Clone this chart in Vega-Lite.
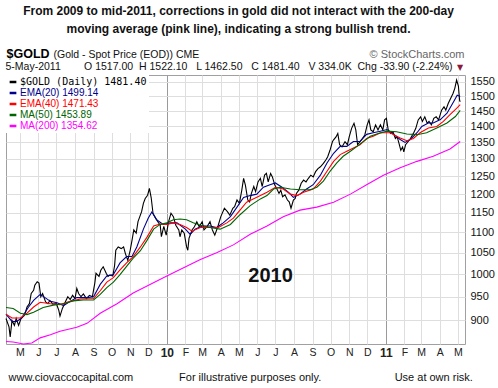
{
  "$schema": "https://vega.github.io/schema/vega-lite/v6.json",
  "width": 459,
  "height": 269,
  "autosize": {"type": "none"},
  "padding": {"left": 6, "top": 75, "right": 33, "bottom": 44},
  "background": "white",
  "config": {
    "view": {"stroke": "#a0a0a0", "strokeWidth": 1},
    "font": "Liberation Sans",
    "axis": {"labelFont": "Liberation Sans", "titleFont": "Liberation Sans"}
  },
  "title": {
    "text": ["From 2009 to mid-2011, corrections in gold did not interact with the 200-day", "moving average (pink line), indicating a strong bullish trend."],
    "font": "Liberation Sans",
    "fontSize": 12,
    "fontWeight": "bold",
    "color": "#111111",
    "lineHeight": 18,
    "anchor": "middle",
    "frame": "group",
    "offset": 12,
    "dx": 3
  },
  "datasets": {
    "prices": [
      {"d":"2009-04-08","s":"g","p":904},{"d":"2009-04-13","s":"g","p":887},{"d":"2009-04-15","s":"g","p":867},{"d":"2009-04-18","s":"g","p":900},{"d":"2009-04-22","s":"g","p":890},{"d":"2009-04-25","s":"g","p":904},{"d":"2009-04-29","s":"g","p":890},{"d":"2009-05-03","s":"g","p":904},{"d":"2009-05-09","s":"g","p":911},{"d":"2009-05-13","s":"g","p":928},{"d":"2009-05-17","s":"g","p":935},{"d":"2009-05-20","s":"g","p":957},{"d":"2009-05-24","s":"g","p":964},{"d":"2009-05-26","s":"g","p":975},{"d":"2009-05-30","s":"g","p":983},{"d":"2009-06-02","s":"g","p":980},{"d":"2009-06-05","s":"g","p":950},{"d":"2009-06-08","s":"g","p":957},{"d":"2009-06-13","s":"g","p":939},{"d":"2009-06-17","s":"g","p":935},{"d":"2009-06-20","s":"g","p":942},{"d":"2009-06-25","s":"g","p":934},{"d":"2009-07-01","s":"g","p":935},{"d":"2009-07-05","s":"g","p":921},{"d":"2009-07-07","s":"g","p":909},{"d":"2009-07-11","s":"g","p":925},{"d":"2009-07-16","s":"g","p":939},{"d":"2009-07-20","s":"g","p":950},{"d":"2009-07-24","s":"g","p":944},{"d":"2009-07-28","s":"g","p":953},{"d":"2009-08-01","s":"g","p":946},{"d":"2009-08-04","s":"g","p":968},{"d":"2009-08-07","s":"g","p":957},{"d":"2009-08-11","s":"g","p":950},{"d":"2009-08-15","s":"g","p":956},{"d":"2009-08-20","s":"g","p":946},{"d":"2009-08-25","s":"g","p":953},{"d":"2009-08-30","s":"g","p":950},{"d":"2009-09-03","s":"g","p":980},{"d":"2009-09-05","s":"g","p":1002},{"d":"2009-09-10","s":"g","p":995},{"d":"2009-09-13","s":"g","p":1009},{"d":"2009-09-17","s":"g","p":1017},{"d":"2009-09-22","s":"g","p":1002},{"d":"2009-09-25","s":"g","p":995},{"d":"2009-09-28","s":"g","p":998},{"d":"2009-10-03","s":"g","p":996},{"d":"2009-10-06","s":"g","p":1020},{"d":"2009-10-08","s":"g","p":1056},{"d":"2009-10-12","s":"g","p":1064},{"d":"2009-10-17","s":"g","p":1060},{"d":"2009-10-21","s":"g","p":1064},{"d":"2009-10-24","s":"g","p":1048},{"d":"2009-10-28","s":"g","p":1032},{"d":"2009-11-01","s":"g","p":1056},{"d":"2009-11-04","s":"g","p":1080},{"d":"2009-11-07","s":"g","p":1106},{"d":"2009-11-11","s":"g","p":1098},{"d":"2009-11-14","s":"g","p":1127},{"d":"2009-11-17","s":"g","p":1140},{"d":"2009-11-20","s":"g","p":1153},{"d":"2009-11-23","s":"g","p":1175},{"d":"2009-11-26","s":"g","p":1188},{"d":"2009-11-30","s":"g","p":1197},{"d":"2009-12-03","s":"g","p":1216},{"d":"2009-12-06","s":"g","p":1190},{"d":"2009-12-09","s":"g","p":1149},{"d":"2009-12-12","s":"g","p":1140},{"d":"2009-12-17","s":"g","p":1127},{"d":"2009-12-21","s":"g","p":1118},{"d":"2009-12-23","s":"g","p":1089},{"d":"2009-12-27","s":"g","p":1115},{"d":"2009-12-31","s":"g","p":1093},{"d":"2010-01-04","s":"g","p":1127},{"d":"2010-01-08","s":"g","p":1149},{"d":"2010-01-12","s":"g","p":1140},{"d":"2010-01-16","s":"g","p":1118},{"d":"2010-01-21","s":"g","p":1106},{"d":"2010-01-23","s":"g","p":1089},{"d":"2010-01-26","s":"g","p":1106},{"d":"2010-01-30","s":"g","p":1098},{"d":"2010-02-03","s":"g","p":1064},{"d":"2010-02-05","s":"g","p":1056},{"d":"2010-02-07","s":"g","p":1085},{"d":"2010-02-12","s":"g","p":1106},{"d":"2010-02-16","s":"g","p":1114},{"d":"2010-02-20","s":"g","p":1127},{"d":"2010-02-24","s":"g","p":1114},{"d":"2010-03-01","s":"g","p":1127},{"d":"2010-03-04","s":"g","p":1106},{"d":"2010-03-09","s":"g","p":1114},{"d":"2010-03-14","s":"g","p":1127},{"d":"2010-03-18","s":"g","p":1106},{"d":"2010-03-22","s":"g","p":1093},{"d":"2010-03-27","s":"g","p":1114},{"d":"2010-04-01","s":"g","p":1140},{"d":"2010-04-07","s":"g","p":1162},{"d":"2010-04-12","s":"g","p":1153},{"d":"2010-04-16","s":"g","p":1144},{"d":"2010-04-21","s":"g","p":1162},{"d":"2010-04-24","s":"g","p":1166},{"d":"2010-04-28","s":"g","p":1184},{"d":"2010-05-02","s":"g","p":1175},{"d":"2010-05-06","s":"g","p":1211},{"d":"2010-05-09","s":"g","p":1244},{"d":"2010-05-12","s":"g","p":1225},{"d":"2010-05-16","s":"g","p":1184},{"d":"2010-05-19","s":"g","p":1179},{"d":"2010-05-22","s":"g","p":1202},{"d":"2010-05-26","s":"g","p":1221},{"d":"2010-05-29","s":"g","p":1207},{"d":"2010-06-02","s":"g","p":1234},{"d":"2010-06-06","s":"g","p":1244},{"d":"2010-06-09","s":"g","p":1221},{"d":"2010-06-13","s":"g","p":1253},{"d":"2010-06-16","s":"g","p":1258},{"d":"2010-06-19","s":"g","p":1234},{"d":"2010-06-23","s":"g","p":1258},{"d":"2010-06-26","s":"g","p":1248},{"d":"2010-06-30","s":"g","p":1225},{"d":"2010-07-03","s":"g","p":1216},{"d":"2010-07-07","s":"g","p":1202},{"d":"2010-07-10","s":"g","p":1211},{"d":"2010-07-13","s":"g","p":1193},{"d":"2010-07-17","s":"g","p":1198},{"d":"2010-07-21","s":"g","p":1184},{"d":"2010-07-24","s":"g","p":1179},{"d":"2010-07-27","s":"g","p":1162},{"d":"2010-07-31","s":"g","p":1184},{"d":"2010-08-03","s":"g","p":1188},{"d":"2010-08-05","s":"g","p":1202},{"d":"2010-08-09","s":"g","p":1211},{"d":"2010-08-13","s":"g","p":1230},{"d":"2010-08-17","s":"g","p":1239},{"d":"2010-08-21","s":"g","p":1234},{"d":"2010-08-25","s":"g","p":1244},{"d":"2010-08-29","s":"g","p":1253},{"d":"2010-09-02","s":"g","p":1248},{"d":"2010-09-06","s":"g","p":1263},{"d":"2010-09-10","s":"g","p":1272},{"d":"2010-09-14","s":"g","p":1277},{"d":"2010-09-19","s":"g","p":1287},{"d":"2010-09-23","s":"g","p":1297},{"d":"2010-09-26","s":"g","p":1306},{"d":"2010-09-30","s":"g","p":1326},{"d":"2010-10-04","s":"g","p":1352},{"d":"2010-10-06","s":"g","p":1358},{"d":"2010-10-10","s":"g","p":1367},{"d":"2010-10-13","s":"g","p":1378},{"d":"2010-10-16","s":"g","p":1343},{"d":"2010-10-20","s":"g","p":1336},{"d":"2010-10-25","s":"g","p":1352},{"d":"2010-10-29","s":"g","p":1343},{"d":"2010-11-01","s":"g","p":1367},{"d":"2010-11-05","s":"g","p":1394},{"d":"2010-11-09","s":"g","p":1410},{"d":"2010-11-12","s":"g","p":1389},{"d":"2010-11-15","s":"g","p":1343},{"d":"2010-11-19","s":"g","p":1352},{"d":"2010-11-23","s":"g","p":1362},{"d":"2010-11-27","s":"g","p":1373},{"d":"2010-12-01","s":"g","p":1405},{"d":"2010-12-04","s":"g","p":1421},{"d":"2010-12-07","s":"g","p":1389},{"d":"2010-12-11","s":"g","p":1383},{"d":"2010-12-15","s":"g","p":1405},{"d":"2010-12-19","s":"g","p":1389},{"d":"2010-12-23","s":"g","p":1405},{"d":"2010-12-27","s":"g","p":1389},{"d":"2010-12-30","s":"g","p":1421},{"d":"2011-01-02","s":"g","p":1426},{"d":"2011-01-05","s":"g","p":1389},{"d":"2011-01-09","s":"g","p":1378},{"d":"2011-01-13","s":"g","p":1383},{"d":"2011-01-17","s":"g","p":1362},{"d":"2011-01-20","s":"g","p":1367},{"d":"2011-01-23","s":"g","p":1347},{"d":"2011-01-26","s":"g","p":1326},{"d":"2011-01-29","s":"g","p":1336},{"d":"2011-01-31","s":"g","p":1321},{"d":"2011-02-03","s":"g","p":1343},{"d":"2011-02-07","s":"g","p":1352},{"d":"2011-02-11","s":"g","p":1362},{"d":"2011-02-16","s":"g","p":1378},{"d":"2011-02-20","s":"g","p":1394},{"d":"2011-02-24","s":"g","p":1421},{"d":"2011-02-28","s":"g","p":1431},{"d":"2011-03-03","s":"g","p":1416},{"d":"2011-03-07","s":"g","p":1431},{"d":"2011-03-11","s":"g","p":1410},{"d":"2011-03-14","s":"g","p":1416},{"d":"2011-03-18","s":"g","p":1405},{"d":"2011-03-22","s":"g","p":1426},{"d":"2011-03-26","s":"g","p":1431},{"d":"2011-03-30","s":"g","p":1421},{"d":"2011-04-04","s":"g","p":1453},{"d":"2011-04-08","s":"g","p":1464},{"d":"2011-04-11","s":"g","p":1453},{"d":"2011-04-15","s":"g","p":1475},{"d":"2011-04-19","s":"g","p":1492},{"d":"2011-04-23","s":"g","p":1509},{"d":"2011-04-26","s":"g","p":1527},{"d":"2011-04-29","s":"g","p":1556},{"d":"2011-05-02","s":"g","p":1535},{"d":"2011-05-04","s":"g","p":1486},{"d":"2011-05-05","s":"g","p":1481},
      {"d":"2009-04-08","s":"e20","p":913},{"d":"2009-04-18","s":"e20","p":898},{"d":"2009-04-26","s":"e20","p":898},{"d":"2009-05-04","s":"e20","p":905},{"d":"2009-05-15","s":"e20","p":927},{"d":"2009-05-24","s":"e20","p":942},{"d":"2009-06-04","s":"e20","p":955},{"d":"2009-06-12","s":"e20","p":948},{"d":"2009-06-21","s":"e20","p":940},{"d":"2009-07-02","s":"e20","p":937},{"d":"2009-07-13","s":"e20","p":931},{"d":"2009-07-24","s":"e20","p":940},{"d":"2009-08-04","s":"e20","p":948},{"d":"2009-08-21","s":"e20","p":948},{"d":"2009-09-01","s":"e20","p":950},{"d":"2009-09-12","s":"e20","p":977},{"d":"2009-09-23","s":"e20","p":996},{"d":"2009-10-04","s":"e20","p":999},{"d":"2009-10-15","s":"e20","p":1026},{"d":"2009-10-26","s":"e20","p":1041},{"d":"2009-11-04","s":"e20","p":1041},{"d":"2009-11-12","s":"e20","p":1064},{"d":"2009-11-23","s":"e20","p":1108},{"d":"2009-12-01","s":"e20","p":1136},{"d":"2009-12-07","s":"e20","p":1152},{"d":"2009-12-15","s":"e20","p":1132},{"d":"2009-12-26","s":"e20","p":1120},{"d":"2010-01-07","s":"e20","p":1124},{"d":"2010-01-18","s":"e20","p":1124},{"d":"2010-02-01","s":"e20","p":1108},{"d":"2010-02-09","s":"e20","p":1095},{"d":"2010-02-17","s":"e20","p":1108},{"d":"2010-03-01","s":"e20","p":1116},{"d":"2010-03-14","s":"e20","p":1116},{"d":"2010-03-25","s":"e20","p":1112},{"d":"2010-04-05","s":"e20","p":1124},{"d":"2010-04-17","s":"e20","p":1140},{"d":"2010-04-28","s":"e20","p":1165},{"d":"2010-05-09","s":"e20","p":1191},{"d":"2010-05-20","s":"e20","p":1196},{"d":"2010-05-31","s":"e20","p":1200},{"d":"2010-06-11","s":"e20","p":1219},{"d":"2010-06-22","s":"e20","p":1226},{"d":"2010-07-01","s":"e20","p":1231},{"d":"2010-07-12","s":"e20","p":1219},{"d":"2010-07-23","s":"e20","p":1205},{"d":"2010-07-31","s":"e20","p":1191},{"d":"2010-08-11","s":"e20","p":1200},{"d":"2010-08-22","s":"e20","p":1214},{"d":"2010-09-02","s":"e20","p":1226},{"d":"2010-09-14","s":"e20","p":1253},{"d":"2010-09-25","s":"e20","p":1288},{"d":"2010-10-06","s":"e20","p":1317},{"d":"2010-10-17","s":"e20","p":1338},{"d":"2010-10-28","s":"e20","p":1338},{"d":"2010-11-08","s":"e20","p":1353},{"d":"2010-11-19","s":"e20","p":1353},{"d":"2010-11-30","s":"e20","p":1375},{"d":"2010-12-11","s":"e20","p":1380},{"d":"2010-12-23","s":"e20","p":1385},{"d":"2011-01-03","s":"e20","p":1390},{"d":"2011-01-14","s":"e20","p":1375},{"d":"2011-01-25","s":"e20","p":1359},{"d":"2011-02-02","s":"e20","p":1350},{"d":"2011-02-11","s":"e20","p":1359},{"d":"2011-02-22","s":"e20","p":1380},{"d":"2011-03-02","s":"e20","p":1400},{"d":"2011-03-13","s":"e20","p":1411},{"d":"2011-03-21","s":"e20","p":1411},{"d":"2011-04-02","s":"e20","p":1422},{"d":"2011-04-13","s":"e20","p":1443},{"d":"2011-04-24","s":"e20","p":1481},{"d":"2011-04-30","s":"e20","p":1503},{"d":"2011-05-05","s":"e20","p":1499},
      {"d":"2009-04-08","s":"e40","p":913},{"d":"2009-04-18","s":"e40","p":905},{"d":"2009-05-02","s":"e40","p":905},{"d":"2009-05-13","s":"e40","p":915},{"d":"2009-05-24","s":"e40","p":928},{"d":"2009-06-04","s":"e40","p":938},{"d":"2009-06-21","s":"e40","p":935},{"d":"2009-07-07","s":"e40","p":933},{"d":"2009-07-24","s":"e40","p":940},{"d":"2009-08-10","s":"e40","p":945},{"d":"2009-09-01","s":"e40","p":946},{"d":"2009-09-12","s":"e40","p":963},{"d":"2009-09-23","s":"e40","p":982},{"d":"2009-10-04","s":"e40","p":992},{"d":"2009-10-15","s":"e40","p":1010},{"d":"2009-10-26","s":"e40","p":1026},{"d":"2009-11-06","s":"e40","p":1041},{"d":"2009-11-18","s":"e40","p":1064},{"d":"2009-11-29","s":"e40","p":1088},{"d":"2009-12-10","s":"e40","p":1116},{"d":"2009-12-21","s":"e40","p":1121},{"d":"2010-01-01","s":"e40","p":1120},{"d":"2010-01-12","s":"e40","p":1124},{"d":"2010-01-23","s":"e40","p":1120},{"d":"2010-02-03","s":"e40","p":1112},{"d":"2010-02-12","s":"e40","p":1103},{"d":"2010-02-26","s":"e40","p":1112},{"d":"2010-03-14","s":"e40","p":1112},{"d":"2010-03-28","s":"e40","p":1112},{"d":"2010-04-11","s":"e40","p":1124},{"d":"2010-04-22","s":"e40","p":1136},{"d":"2010-05-03","s":"e40","p":1157},{"d":"2010-05-14","s":"e40","p":1178},{"d":"2010-05-25","s":"e40","p":1187},{"d":"2010-06-06","s":"e40","p":1196},{"d":"2010-06-17","s":"e40","p":1205},{"d":"2010-07-01","s":"e40","p":1219},{"d":"2010-07-14","s":"e40","p":1214},{"d":"2010-07-26","s":"e40","p":1200},{"d":"2010-08-06","s":"e40","p":1196},{"d":"2010-08-17","s":"e40","p":1205},{"d":"2010-09-02","s":"e40","p":1214},{"d":"2010-09-14","s":"e40","p":1236},{"d":"2010-09-25","s":"e40","p":1264},{"d":"2010-10-06","s":"e40","p":1293},{"d":"2010-10-17","s":"e40","p":1313},{"d":"2010-10-28","s":"e40","p":1323},{"d":"2010-11-08","s":"e40","p":1333},{"d":"2010-11-19","s":"e40","p":1343},{"d":"2010-11-30","s":"e40","p":1362},{"d":"2010-12-11","s":"e40","p":1369},{"d":"2010-12-23","s":"e40","p":1380},{"d":"2011-01-08","s":"e40","p":1380},{"d":"2011-01-25","s":"e40","p":1364},{"d":"2011-02-05","s":"e40","p":1355},{"d":"2011-02-16","s":"e40","p":1362},{"d":"2011-02-27","s":"e40","p":1380},{"d":"2011-03-13","s":"e40","p":1395},{"d":"2011-03-27","s":"e40","p":1400},{"d":"2011-04-07","s":"e40","p":1416},{"d":"2011-04-18","s":"e40","p":1438},{"d":"2011-04-29","s":"e40","p":1459},{"d":"2011-05-05","s":"e40","p":1471},
      {"d":"2009-04-08","s":"m50","p":927},{"d":"2009-04-20","s":"m50","p":925},{"d":"2009-05-02","s":"m50","p":915},{"d":"2009-05-13","s":"m50","p":912},{"d":"2009-05-24","s":"m50","p":917},{"d":"2009-06-09","s":"m50","p":927},{"d":"2009-06-26","s":"m50","p":932},{"d":"2009-07-13","s":"m50","p":935},{"d":"2009-07-29","s":"m50","p":941},{"d":"2009-08-15","s":"m50","p":943},{"d":"2009-09-01","s":"m50","p":943},{"d":"2009-09-12","s":"m50","p":955},{"d":"2009-09-23","s":"m50","p":970},{"d":"2009-10-04","s":"m50","p":982},{"d":"2009-10-15","s":"m50","p":999},{"d":"2009-10-26","s":"m50","p":1018},{"d":"2009-11-06","s":"m50","p":1037},{"d":"2009-11-18","s":"m50","p":1055},{"d":"2009-11-29","s":"m50","p":1080},{"d":"2009-12-10","s":"m50","p":1108},{"d":"2009-12-21","s":"m50","p":1120},{"d":"2010-01-01","s":"m50","p":1124},{"d":"2010-01-12","s":"m50","p":1132},{"d":"2010-01-23","s":"m50","p":1134},{"d":"2010-02-03","s":"m50","p":1132},{"d":"2010-02-14","s":"m50","p":1124},{"d":"2010-02-26","s":"m50","p":1118},{"d":"2010-03-14","s":"m50","p":1112},{"d":"2010-03-31","s":"m50","p":1108},{"d":"2010-04-17","s":"m50","p":1120},{"d":"2010-05-03","s":"m50","p":1145},{"d":"2010-05-20","s":"m50","p":1169},{"d":"2010-06-06","s":"m50","p":1187},{"d":"2010-06-17","s":"m50","p":1196},{"d":"2010-06-28","s":"m50","p":1214},{"d":"2010-07-09","s":"m50","p":1219},{"d":"2010-07-26","s":"m50","p":1214},{"d":"2010-08-11","s":"m50","p":1212},{"d":"2010-08-28","s":"m50","p":1212},{"d":"2010-09-08","s":"m50","p":1219},{"d":"2010-09-19","s":"m50","p":1236},{"d":"2010-09-30","s":"m50","p":1264},{"d":"2010-10-11","s":"m50","p":1288},{"d":"2010-10-22","s":"m50","p":1308},{"d":"2010-11-03","s":"m50","p":1323},{"d":"2010-11-14","s":"m50","p":1338},{"d":"2010-11-25","s":"m50","p":1353},{"d":"2010-12-06","s":"m50","p":1369},{"d":"2010-12-17","s":"m50","p":1376},{"d":"2011-01-03","s":"m50","p":1385},{"d":"2011-01-19","s":"m50","p":1383},{"d":"2011-02-05","s":"m50","p":1376},{"d":"2011-02-22","s":"m50","p":1374},{"d":"2011-03-10","s":"m50","p":1380},{"d":"2011-03-27","s":"m50","p":1395},{"d":"2011-04-13","s":"m50","p":1411},{"d":"2011-04-27","s":"m50","p":1432},{"d":"2011-05-05","s":"m50","p":1452},
      {"d":"2009-04-08","s":"m200","p":858},{"d":"2009-04-20","s":"m200","p":857},{"d":"2009-05-07","s":"m200","p":853},{"d":"2009-05-21","s":"m200","p":855},{"d":"2009-06-04","s":"m200","p":865},{"d":"2009-06-21","s":"m200","p":871},{"d":"2009-07-07","s":"m200","p":878},{"d":"2009-08-04","s":"m200","p":886},{"d":"2009-08-21","s":"m200","p":894},{"d":"2009-09-12","s":"m200","p":915},{"d":"2009-10-10","s":"m200","p":935},{"d":"2009-11-06","s":"m200","p":958},{"d":"2009-12-04","s":"m200","p":977},{"d":"2010-01-01","s":"m200","p":996},{"d":"2010-01-29","s":"m200","p":1015},{"d":"2010-02-26","s":"m200","p":1034},{"d":"2010-03-25","s":"m200","p":1050},{"d":"2010-04-22","s":"m200","p":1069},{"d":"2010-05-20","s":"m200","p":1095},{"d":"2010-06-17","s":"m200","p":1116},{"d":"2010-07-14","s":"m200","p":1140},{"d":"2010-08-11","s":"m200","p":1157},{"d":"2010-09-08","s":"m200","p":1165},{"d":"2010-10-06","s":"m200","p":1178},{"d":"2010-11-03","s":"m200","p":1200},{"d":"2010-11-30","s":"m200","p":1226},{"d":"2010-12-28","s":"m200","p":1253},{"d":"2011-01-25","s":"m200","p":1274},{"d":"2011-02-22","s":"m200","p":1293},{"d":"2011-03-21","s":"m200","p":1308},{"d":"2011-04-18","s":"m200","p":1330},{"d":"2011-05-05","s":"m200","p":1353}
    ],
    "notes": [{"label": "2010", "d": "2010-06-23", "p": 995}]
  },
  "resolve": {"axis": {"x": "independent", "y": "independent"}},
  "layer": [
    {
      "data": {"name": "prices"},
      "transform": [{"filter": "datum.s === 'g'"}],
      "mark": {"type": "line", "strokeWidth": 1.1},
      "encoding": {
        "x": {
          "field": "d", "type": "temporal",
          "scale": {"type": "utc", "domain": [{"year": 2009, "month": 4, "date": 8, "utc": true}, {"year": 2011, "month": 5, "date": 13, "utc": true}]},
          "axis": {
            "orient": "bottom",
            "tickCount": {"interval": "month", "step": 1},
            "labelExpr": "utcmonth(datum.value) === 0 ? utcFormat(datum.value, '%y') : slice(utcFormat(datum.value, '%b'), 0, 1)",
            "labelFontWeight": {"condition": {"test": "utcmonth(datum.value) === 0", "value": "bold"}, "value": "normal"},
            "labelFontSize": {"condition": {"test": "utcmonth(datum.value) === 0", "value": 12}, "value": 10.5},
            "labelColor": "#222222",
            "labelPadding": 3,
            "labelFlush": false,
            "labelOverlap": false,
            "ticks": false,
            "domain": false,
            "grid": true,
            "gridColor": {"condition": {"test": "utcmonth(datum.value) === 0", "value": "#9a9a9a"}, "value": "#dedede"},
            "title": "www.ciovaccocapital.com\u00a0\u00a0\u00a0\u00a0\u00a0\u00a0\u00a0\u00a0\u00a0\u00a0\u00a0\u00a0\u00a0\u00a0\u00a0For illustrative purposes only.\u00a0\u00a0\u00a0\u00a0\u00a0\u00a0\u00a0\u00a0\u00a0\u00a0\u00a0\u00a0\u00a0\u00a0\u00a0\u00a0\u00a0\u00a0\u00a0\u00a0\u00a0\u00a0\u00a0\u00a0Use at own risk.",
            "titleAnchor": "start",
            "titleAlign": "left",
            "titleX": 2,
            "titleY": 36,
            "titleBaseline": "alphabetic",
            "titleFontSize": 11,
            "titleFontWeight": "normal",
            "titleColor": "#111111"
          }
        },
        "y": {
          "field": "p", "type": "quantitative",
          "scale": {"type": "log", "domain": [853, 1574], "nice": false, "zero": false},
          "axis": {
            "orient": "right",
            "values": [900, 950, 1000, 1050, 1100, 1150, 1200, 1250, 1300, 1350, 1400, 1450, 1500, 1550],
            "format": "d",
            "grid": true,
            "gridColor": "#dedede",
            "ticks": false,
            "domain": false,
            "labelPadding": 5,
            "labelFontSize": 11,
            "labelColor": "#111111",
            "title": "© StockCharts.com",
            "titleAngle": 0,
            "titleX": -1,
            "titleY": -18,
            "titleAlign": "right",
            "titleBaseline": "alphabetic",
            "titleFontSize": 11,
            "titleFontWeight": "normal",
            "titleColor": "#666666"
          }
        },
        "color": {
          "field": "s", "type": "nominal",
          "scale": {"domain": ["g", "e20", "e40", "m50", "m200"], "range": ["#000000", "#00008b", "#ff0000", "#006400", "#ff00ff"]},
          "legend": {
            "orient": "top-left",
            "offset": 0,
            "padding": 2,
            "fillColor": "white",
            "title": null,
            "symbolType": "stroke",
            "symbolSize": 45,
            "symbolStrokeWidth": 2.5,
            "labelFont": "Liberation Sans",
            "labelFontSize": 10,
            "labelOffset": 2,
            "labelLimit": 300,
            "rowPadding": 1,
            "labelExpr": "datum.label === 'g' ? '$GOLD (Daily) 1481.40' : datum.label === 'e20' ? 'EMA(20) 1499.14' : datum.label === 'e40' ? 'EMA(40) 1471.43' : datum.label === 'm50' ? 'MA(50) 1453.89' : 'MA(200) 1354.62'",
            "encode": {
              "labels": {
                "update": {
                  "fill": {"scale": "color", "field": "value"},
                  "font": {"signal": "datum.value === 'g' ? 'DejaVu Sans Mono' : 'Liberation Sans'"}
                }
              }
            }
          }
        }
      }
    },
    {
      "data": {"name": "prices"},
      "transform": [{"filter": "datum.s !== 'g'"}],
      "mark": {"type": "line", "strokeWidth": 1.1},
      "encoding": {
        "x": {
          "field": "d", "type": "temporal",
          "axis": {
            "orient": "top", "labels": false, "ticks": false, "domain": false, "grid": false,
            "title": "$GOLD",
            "titleAnchor": "start", "titleAlign": "left", "titleX": 0, "titleY": -17.5,
            "titleBaseline": "alphabetic", "titleFont": "Liberation Sans", "titleFontSize": 12.5,
            "titleFontWeight": "bold", "titleColor": "#000000"
          }
        },
        "y": {
          "field": "p", "type": "quantitative",
          "axis": {
            "orient": "left", "labels": false, "ticks": false, "domain": false, "grid": false,
            "title": "(Gold - Spot Price (EOD))  CME",
            "titleAngle": 0, "titleX": 47, "titleY": -17.5, "titleAlign": "left",
            "titleBaseline": "alphabetic", "titleFont": "Liberation Sans", "titleFontSize": 10.5,
            "titleFontWeight": "normal", "titleColor": "#111111"
          }
        },
        "color": {"field": "s", "type": "nominal"}
      }
    },
    {
      "data": {"name": "notes"},
      "mark": {"type": "text", "font": "Liberation Sans", "fontSize": 20, "fontWeight": "bold", "color": "#111111"},
      "encoding": {
        "x": {
          "field": "d", "type": "temporal",
          "axis": {
            "orient": "top", "labels": false, "ticks": false, "domain": false, "grid": false,
            "title": "5-May-2011\u00a0\u00a0\u00a0\u00a0\u00a0\u00a0\u00a0\u00a0O 1517.00\u00a0\u00a0H 1522.10\u00a0\u00a0\u00a0L 1462.50\u00a0\u00a0\u00a0C 1481.40\u00a0\u00a0\u00a0V 334.0K\u00a0\u00a0Chg -33.90 (-2.24%)",
            "titleAnchor": "start", "titleAlign": "left", "titleX": -1, "titleY": -5.5,
            "titleBaseline": "alphabetic", "titleFont": "Liberation Sans", "titleFontSize": 10.5,
            "titleFontWeight": "normal", "titleColor": "#111111"
          }
        },
        "y": {
          "field": "p", "type": "quantitative",
          "axis": {
            "orient": "left", "labels": false, "ticks": false, "domain": false, "grid": false,
            "title": "▼",
            "titleAngle": 0, "titleX": 453.5, "titleY": -8, "titleAlign": "center",
            "titleBaseline": "middle", "titleFont": "DejaVu Sans", "titleFontSize": 8,
            "titleFontWeight": "normal", "titleColor": "#8b1a3a"
          }
        },
        "text": {"field": "label"}
      }
    }
  ]
}
